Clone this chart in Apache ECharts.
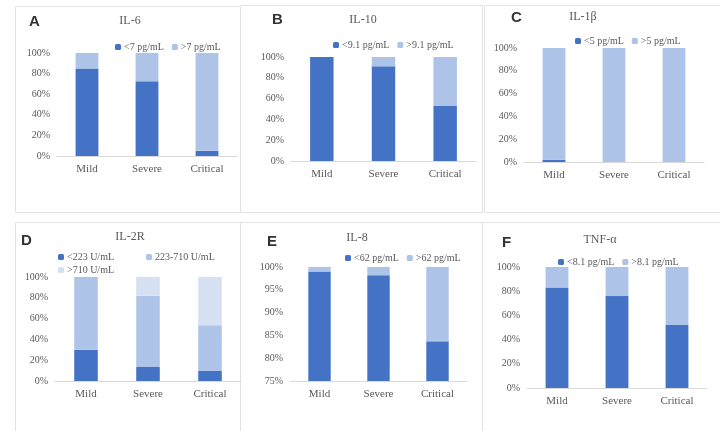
<!DOCTYPE html>
<html>
<head>
<meta charset="utf-8">
<script src="https://cdn.jsdelivr.net/npm/echarts@6/dist/echarts.min.js"></script>
<style>
  html, body { margin: 0; padding: 0; background: #fff; }
  #chart { width: 720px; height: 431px; }
</style>
</head>
<body>
<div id="chart"></div>
<script>
// categories and values (percent of patients)
var categories = ['Mild', 'Severe', 'Critical'];

var il6Low = [85, 72.5, 5];
var il6High = [15, 27.5, 95];
var il10Low = [100, 91, 53];
var il10High = [0, 9, 47];
var il1bLow = [2, 0, 0];
var il1bHigh = [98, 100, 100];
var il2rLow = [30, 13.5, 10];
var il2rMid = [70, 68.5, 43.5];
var il2rHigh = [0, 18, 46.5];
var il8Low = [99, 98.2, 83.7];
var il8High = [1, 1.8, 16.3];
var tnfLow = [83, 76, 52];
var tnfHigh = [17, 24, 48];

// y ranges per panel [min, max, interval]
var yFull = [0, 100, 20];
var yIl8 = [75, 100, 5];

var dark = '#4472c4', light = '#adc3e8', lighter = '#d5e0f3';
var serif = 'Liberation Serif';
var txt = '#595959';

// panel layout: plot areas in px
var panels = [
  { letter: 'A', title: 'IL-6', box: [15, 6, 225, 206], grid: [57, 53, 180, 103], lx: 29, ly: 14, tx: 130, ty: 15, legX: 110, legY: 37, y: yFull,
    series: [['<7 pg/mL', il6Low, dark], ['>7 pg/mL', il6High, light]] },
  { letter: 'B', title: 'IL-10', box: [240, 5, 242, 207], grid: [291, 57, 185, 104], lx: 272, ly: 12, tx: 363, ty: 14, legX: 328, legY: 35, y: yFull,
    series: [['<9.1 pg/mL', il10Low, dark], ['>9.1 pg/mL', il10High, light]] },
  { letter: 'C', title: 'IL-1β', box: [484, 5, 236, 207], grid: [524, 48, 180, 114], lx: 511, ly: 10, tx: 583, ty: 11, legX: 570, legY: 31, y: yFull,
    series: [['<5 pg/mL', il1bLow, dark], ['>5 pg/mL', il1bHigh, light]] },
  { letter: 'D', title: 'IL-2R', box: [15, 222, 225, 209], grid: [55, 277, 186, 104], lx: 21, ly: 233, tx: 130, ty: 231, legX: 53, legY: 247, y: yFull,
    series: [['<223 U/mL', il2rLow, dark], ['223-710 U/mL', il2rMid, light], ['>710 U/mL', il2rHigh, lighter]] },
  { letter: 'E', title: 'IL-8', box: [240, 222, 242, 209], grid: [290, 267, 177, 114], lx: 267, ly: 234, tx: 357, ty: 232, legX: 340, legY: 248, y: yIl8,
    series: [['<62 pg/mL', il8Low, dark], ['>62 pg/mL', il8High, light]] },
  { letter: 'F', title: 'TNF-α', box: [482, 222, 238, 209], grid: [527, 267, 180, 121], lx: 502, ly: 235, tx: 600, ty: 234, legX: 553, legY: 252, y: yFull,
    series: [['<8.1 pg/mL', tnfLow, dark], ['>8.1 pg/mL', tnfHigh, light]] }
];

var myChart = echarts.init(document.getElementById('chart'));

var grids = [], xAxes = [], yAxes = [], series = [], legends = [], graphics = [];
var legText = { fontFamily: serif, fontSize: 10, color: txt, padding: [0, 0, 0, -2] };

panels.forEach(function (p, i) {
  grids.push({ left: p.grid[0], top: p.grid[1], width: p.grid[2], height: p.grid[3], containLabel: false });
  xAxes.push({
    type: 'category', gridIndex: i, data: categories,
    axisLine: { lineStyle: { color: '#d9d9d9' } },
    axisTick: { show: false },
    axisLabel: { color: txt, fontFamily: serif, fontSize: 11, margin: 8 }
  });
  yAxes.push({
    type: 'value', gridIndex: i, min: p.y[0], max: p.y[1], interval: p.y[2],
    axisLine: { show: false }, axisTick: { show: false }, splitLine: { show: false },
    axisLabel: { color: txt, fontFamily: serif, fontSize: 10, formatter: '{value}%', margin: 7 }
  });
  p.series.forEach(function (s) {
    series.push({
      name: s[0], type: 'bar', stack: 'p' + i, xAxisIndex: i, yAxisIndex: i,
      data: s[1], barWidth: '38%', itemStyle: { color: s[2] }
    });
  });
  var names = p.series.map(function (s) { return s[0]; });
  if (p.letter === 'D') {
    legends.push({ left: p.legX, top: p.legY, itemWidth: 6, itemHeight: 6, itemGap: 32,
      data: names.slice(0, 2), textStyle: legText });
    legends.push({ left: p.legX, top: p.legY + 13, itemWidth: 6, itemHeight: 6,
      data: names.slice(2), textStyle: legText });
  } else {
    legends.push({ left: p.legX, top: p.legY, itemWidth: 6, itemHeight: 6, itemGap: 8,
      data: names, textStyle: legText });
  }
  // panel frame
  graphics.push({ type: 'rect', shape: { x: p.box[0] + 0.5, y: p.box[1] + 0.5, width: p.box[2], height: p.box[3] },
    style: { fill: 'none', stroke: '#e3e3e3', lineWidth: 1 }, silent: true, z: -1 });
  // panel letter
  graphics.push({ type: 'text', left: p.lx, top: p.ly,
    style: { text: p.letter, fontFamily: 'Liberation Sans', fontWeight: 'bold', fontSize: 15, fill: '#333' } });
  // panel title
  graphics.push({ type: 'text', x: p.tx, y: p.ty,
    style: { text: p.title, fontFamily: serif, fontSize: 12, fill: txt, align: 'center', verticalAlign: 'top' } });
});

myChart.setOption({
  animation: false,
  backgroundColor: '#fff',
  grid: grids,
  xAxis: xAxes,
  yAxis: yAxes,
  legend: legends,
  graphic: graphics,
  series: series
});
</script>
</body>
</html>
